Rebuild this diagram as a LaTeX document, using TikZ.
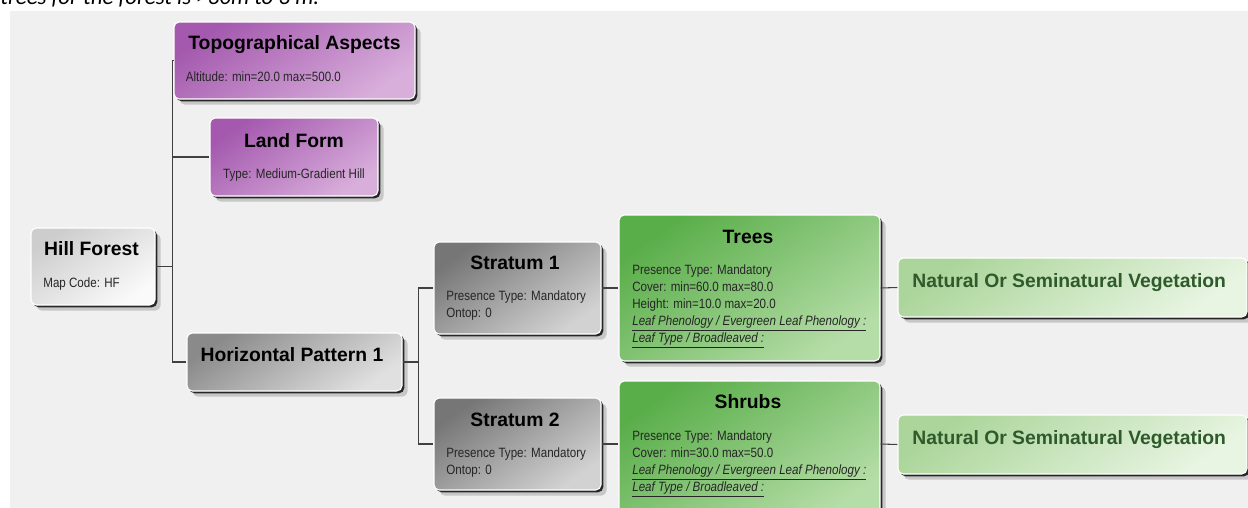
\documentclass[tikz,border=0pt]{standalone}
\usepackage{fontspec}
\setmainfont{Liberation Sans}
\newfontfamily\capfont{Carlito}
\newfontfamily\bodyfont[FakeStretch=0.86]{Liberation Sans}
\usetikzlibrary{positioning,shadows,calc}
\definecolor{bggray}{HTML}{F0F0F0}
\definecolor{lnk}{HTML}{404040}
\definecolor{purA}{HTML}{A459AE}
\definecolor{purB}{HTML}{D8AEDB}
\definecolor{hfA}{HTML}{CDCDCD}
\definecolor{hfB}{HTML}{FAFAFA}
\definecolor{hpA}{HTML}{8A8A8A}
\definecolor{hpB}{HTML}{E0E0E0}
\definecolor{stA}{HTML}{767676}
\definecolor{stB}{HTML}{D2D2D2}
\definecolor{grA}{HTML}{5AAE4A}
\definecolor{grB}{HTML}{B5DDA7}
\definecolor{nvA}{HTML}{ABD59A}
\definecolor{nvB}{HTML}{E8F5E2}
\definecolor{nvtxt}{HTML}{2F5A2B}

\begin{document}
\begin{tikzpicture}[
  box/.style={rounded corners=3pt,inner sep=0pt,draw=white,line width=0.6pt,
    drop shadow={shadow xshift=3.2pt,shadow yshift=-3.2pt,fill=black!22,opacity=1},
    drop shadow={shadow xshift=1.3pt,shadow yshift=-1.3pt,fill=black!85,opacity=1}},
  purbox/.style={box,top color=purA,bottom color=purB,shading angle=35},
  hfbox/.style={box,top color=hfA,bottom color=hfB,shading angle=35},
  hpbox/.style={box,top color=hpA,bottom color=hpB,shading angle=35},
  stbox/.style={box,top color=stA,bottom color=stB,shading angle=35},
  grbox/.style={box,top color=grA,bottom color=grB,shading angle=35},
  nvbox/.style={box,top color=nvA,bottom color=nvB,shading angle=35},
  ttl/.style={font=\fontsize{11}{13}\selectfont\bfseries,inner sep=0pt,anchor=base},
  txt/.style={font=\bodyfont\fontsize{7.67}{9.6}\selectfont,inner sep=0pt,align=left,
    anchor=base west,text=black!85},
  link/.style={draw=lnk,line width=0.6pt}]
  \useasboundingbox (0,0) rectangle (24.96,-10.16);
  \fill[bggray] (0.2,-0.22) rectangle (24.96,-10.16);
  \node[font=\capfont\itshape\fontsize{13}{15}\selectfont,anchor=base west,inner sep=0pt]
        (cap) at (0,-0.08) {trees for the forest is >30m to 3 m.};
  %% Site nodes
  \node[purbox,minimum width=4.82cm,minimum height=1.54cm] (topo) at (5.89,-1.21) {};
  \node[ttl] (topot) at (5.89,-0.99) {Topographical Aspects};
  \node[txt] (topob) at (3.71,-1.62) {Altitude: min=20.0 max=500.0};
  \node[purbox,minimum width=3.36cm,minimum height=1.56cm] (land) at (5.88,-3.14) {};
  \node[ttl] (landt) at (5.88,-2.94) {Land Form};
  \node[txt,anchor=base] (landb) at (5.88,-3.56) {Type: Medium-Gradient Hill};
  \node[hfbox,minimum width=2.48cm,minimum height=1.54cm] (hill) at (1.86,-5.33) {};
  \node[ttl] (hillt) at (1.83,-5.10) {Hill Forest};
  \node[txt] (hillb) at (0.86,-5.74) {Map Code: HF};
  \node[hpbox,minimum width=4.30cm,minimum height=1.16cm] (hp) at (5.89,-7.24) {};
  \node[ttl] (hpt) at (5.84,-7.23) {Horizontal Pattern 1};
  %% Strata (multi-line texts sit on their last baseline)
  \node[stbox,minimum width=3.34cm,minimum height=1.84cm] (s1) at (10.35,-5.76) {};
  \node[ttl] (s1t) at (10.30,-5.38) {Stratum 1};
  \node[txt] (s1b) at (8.92,-6.34) {Presence Type: Mandatory\\Ontop: 0};
  \node[stbox,minimum width=3.34cm,minimum height=1.84cm] (s2) at (10.35,-8.88) {};
  \node[ttl] (s2t) at (10.30,-8.52) {Stratum 2};
  \node[txt] (s2b) at (8.92,-9.48) {Presence Type: Mandatory\\Ontop: 0};
  %% Life forms
  \node[grbox,minimum width=5.22cm,minimum height=2.92cm] (trees) at (14.99,-5.76) {};
  \node[ttl] (treest) at (14.96,-4.86) {Trees};
  \node[txt] (treesb) at (12.64,-6.84)
        {Presence Type: Mandatory\\Cover: min=60.0 max=80.0\\Height: min=10.0 max=20.0\\
         \underline{\textit{Leaf Phenology / Evergreen Leaf Phenology :}}\\
         \underline{\textit{Leaf Type / Broadleaved :}}};
  \node[grbox,minimum width=5.22cm,minimum height=2.80cm] (shrubs) at (14.99,-9.02) {};
  \node[ttl] (shrubst) at (14.96,-8.16) {Shrubs};
  \node[txt] (shrubsb) at (12.64,-9.82)
        {Presence Type: Mandatory\\Cover: min=30.0 max=50.0\\
         \underline{\textit{Leaf Phenology / Evergreen Leaf Phenology :}}\\
         \underline{\textit{Leaf Type / Broadleaved :}}};
  \node[nvbox,minimum width=6.98cm,minimum height=1.18cm] (nv1) at (21.45,-5.75) {};
  \node[ttl,anchor=base west,text=nvtxt] (nv1t) at (18.24,-5.74) {Natural Or Seminatural Vegetation};
  \node[nvbox,minimum width=6.98cm,minimum height=1.18cm] (nv2) at (21.45,-8.89) {};
  \node[ttl,anchor=base west,text=nvtxt] (nv2t) at (18.24,-8.88) {Natural Or Seminatural Vegetation};
  %% Connectors
  \coordinate (jA) at ($(hill.east)+(0.34,0)$);
  \coordinate (jB) at ($(hp.east)+(0.32,0)$);
  \draw[link] (hill.east) -- (jA);
  \draw[link] (jA) |- (topo.west);
  \draw[link] (jA) |- (land.west);
  \draw[link] (jA) |- (hp.west);
  \draw[link] (hp.east) -- (jB);
  \draw[link] (jB) |- (s1.west);
  \draw[link] (jB) |- (s2.west);
  \draw[link] (s1.east) -- (trees.west);
  \draw[link] (trees.east) -- (nv1.west);
  \draw[link] (s2.east) -- (shrubs.west |- s2.east);
  \draw[link] (shrubs.east |- s2.east) -- (nv2.west);
\end{tikzpicture}
\end{document}
